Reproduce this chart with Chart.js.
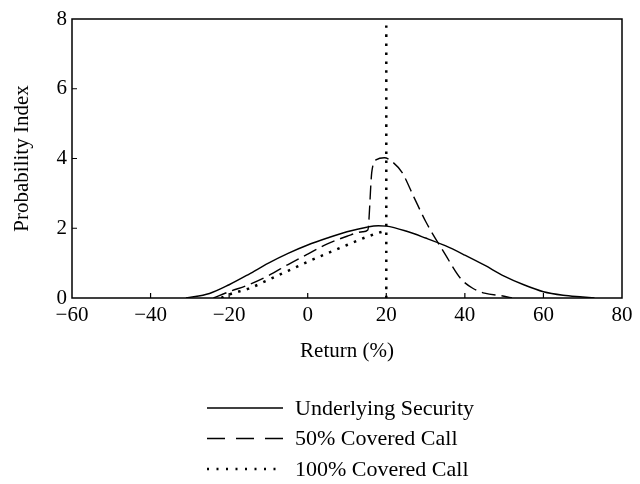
<!DOCTYPE html>
<html>
<head>
<meta charset="utf-8">
<script src="https://cdn.jsdelivr.net/npm/chart.js@4"></script>
<style>
  html, body { margin: 0; padding: 0; background: #ffffff; }
  canvas { display: block; }
</style>
</head>
<body>
<canvas id="c" width="640" height="484"></canvas>
<script>
// ---- data ----
const xTicks = [-60, -40, -20, 0, 20, 40, 60, 80];
const yTicks = [0, 2, 4, 6, 8];
const seriesNames = ["Underlying Security", "50% Covered Call", "100% Covered Call"];

const underX = [-31, -25, -20, -15, -10, -5, 0, 5, 10, 15, 18, 20, 25, 30, 35, 40, 45, 50, 55, 60, 65, 70, 73];
const underY = [0, 0.13, 0.38, 0.68, 1.0, 1.28, 1.52, 1.72, 1.9, 2.03, 2.07, 2.06, 1.92, 1.72, 1.5, 1.23, 0.94, 0.63, 0.38, 0.18, 0.08, 0.03, 0];

const halfX = [-24, -20, -15, -10, -5, 0, 5, 10, 14, 15.3, 16.3, 17.5, 19.5, 21, 24, 27, 30, 35, 39, 42, 45, 50, 52];
const halfY = [0, 0.18, 0.38, 0.64, 0.96, 1.26, 1.55, 1.77, 1.9, 1.95, 3.6, 3.97, 4.02, 3.95, 3.6, 2.9, 2.2, 1.25, 0.55, 0.28, 0.14, 0.05, 0];

const fullX = [-22, -20, -15, -10, -5, 0, 5, 10, 15, 19, 20, 20, 20, 20];
const fullY = [0, 0.1, 0.27, 0.52, 0.78, 1.04, 1.28, 1.52, 1.75, 1.9, 1.92, null, 0, 8];

function pts(xs, ys) { return xs.map((x, i) => ({ x: x, y: ys[i] })); }

const FONT = "'Liberation Serif', 'Times New Roman', serif";

const boxAndTicks = {
  id: 'boxAndTicks',
  afterDraw(chart) {
    const ctx = chart.ctx;
    const a = chart.chartArea;
    const xs = chart.scales.x, ys = chart.scales.y;
    ctx.save();
    ctx.strokeStyle = '#000';
    ctx.lineWidth = 1.5;
    ctx.setLineDash([]);
    ctx.strokeRect(a.left, a.top, a.right - a.left, a.bottom - a.top);
    ctx.lineWidth = 1.2;
    ctx.beginPath();
    xs.ticks.forEach(t => {
      if (t.value <= xs.min || t.value >= xs.max) return;
      const px = xs.getPixelForValue(t.value);
      ctx.moveTo(px, a.bottom);
      ctx.lineTo(px, a.bottom - 5);
    });
    ys.ticks.forEach(t => {
      if (t.value <= ys.min || t.value >= ys.max) return;
      const py = ys.getPixelForValue(t.value);
      ctx.moveTo(a.left, py);
      ctx.lineTo(a.left + 5, py);
    });
    ctx.stroke();

    // legend: one item per row, samples drawn with each dataset's own style
    const cx = (a.left + a.right) / 2;
    const x0 = cx - 140, x1 = x0 + 76, tx = x1 + 12;
    const rowY0 = a.bottom + 110, rowGap = 30.5;
    chart.data.datasets.forEach((ds, i) => {
      const y = rowY0 + i * rowGap;
      ctx.save();
      ctx.strokeStyle = ds.borderColor;
      ctx.lineWidth = ds.borderWidth;
      ctx.setLineDash(ds.legendDash || ds.borderDash || []);
      ctx.beginPath();
      ctx.moveTo(x0, y);
      ctx.lineTo(x1, y);
      ctx.stroke();
      ctx.restore();
      ctx.fillStyle = '#000';
      ctx.font = "22px " + FONT;
      ctx.textAlign = 'left';
      ctx.textBaseline = 'middle';
      ctx.fillText(ds.label, tx, y + 1);
    });
    ctx.restore();
  }
};

new Chart(document.getElementById('c'), {
  type: 'line',
  data: {
    datasets: [
      { label: seriesNames[0], data: pts(underX, underY), borderColor: '#000', borderWidth: 1.4, borderDash: [] },
      { label: seriesNames[1], data: pts(halfX, halfY), borderColor: '#000', borderWidth: 1.4, borderDash: [14, 6], legendDash: [18, 11] },
      { label: seriesNames[2], data: pts(fullX, fullY), borderColor: '#000', borderWidth: 2.5, borderDash: [2.5, 6.5], legendDash: [2, 7.5] }
    ]
  },
  options: {
    responsive: false,
    animation: false,
    devicePixelRatio: 1,
    layout: { padding: { left: 0, top: 19, right: 18, bottom: 116 } },
    elements: {
      point: { radius: 0 },
      line: { tension: 0.4, cubicInterpolationMode: 'monotone', fill: false }
    },
    plugins: {
      legend: { display: false },
      tooltip: { enabled: false }
    },
    scales: {
      x: {
        type: 'linear',
        min: xTicks[0],
        max: xTicks[xTicks.length - 1],
        afterBuildTicks: s => { s.ticks = xTicks.map(v => ({ value: v })); },
        afterFit: s => { s.height = 70; },
        grid: { display: false, drawTicks: false },
        border: { display: false },
        ticks: {
          padding: 5,
          color: '#000',
          font: { family: FONT, size: 21 },
          maxRotation: 0,
          callback: v => String(v).replace('-', '\u2212')
        },
        title: {
          display: true,
          text: 'Return (%)',
          color: '#000',
          font: { family: FONT, size: 21 },
          padding: { top: 0, bottom: 4 }
        }
      },
      y: {
        type: 'linear',
        min: yTicks[0],
        max: yTicks[yTicks.length - 1],
        afterBuildTicks: s => { s.ticks = yTicks.map(v => ({ value: v })); },
        afterFit: s => { s.width = 72; },
        grid: { display: false, drawTicks: false },
        border: { display: false },
        ticks: {
          padding: 5,
          color: '#000',
          font: { family: FONT, size: 21 }
        },
        title: {
          display: true,
          text: 'Probability Index',
          color: '#000',
          font: { family: FONT, size: 21 },
          padding: { top: 10, bottom: 0 }
        }
      }
    }
  },
  plugins: [boxAndTicks]
});
</script>
</body>
</html>
